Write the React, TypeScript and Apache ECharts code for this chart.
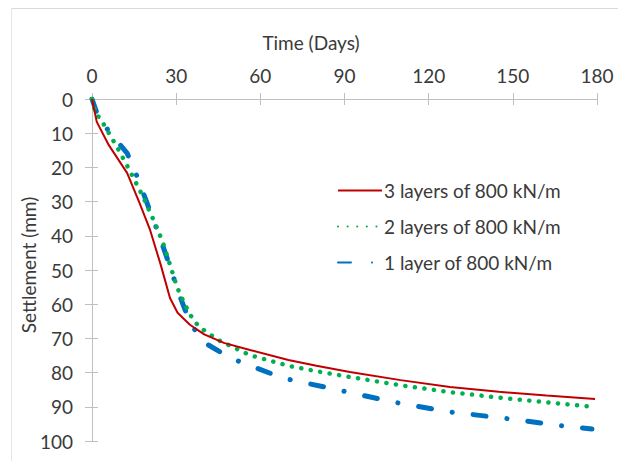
import React, { useEffect, useRef } from "react";
import * as echarts from "echarts";

const xTicks = [0, 30, 60, 90, 120, 150, 180];
const yTicks = [0, 10, 20, 30, 40, 50, 60, 70, 80, 90, 100];

const seriesNames = ["3 layers of 800 kN/m", "2 layers of 800 kN/m", "1 layer of 800 kN/m"];

const threeLayers: [number, number][] = [
  [0, 0], [1.7, 6.7], [6, 13.5], [12.5, 21.6], [17, 30.5], [20.7, 38.3], [24.5, 48.5], [27.8, 58.2],
  [30.5, 62.5], [34.9, 66], [40, 68.8], [47, 71.3], [56.3, 73.4], [70, 76.3], [80, 78], [91.9, 79.8],
  [110, 82.2], [127.6, 84.2], [145, 85.6], [162, 86.7], [179.3, 87.7],
];

const twoLayers: [number, number][] = [
  [0, 0], [1.4, 4.5], [2.9, 5.6], [8.9, 14], [13.5, 21], [18.2, 28.6], [22, 35.5], [25.3, 42],
  [28, 49], [30.3, 55], [32.5, 59], [34.9, 63], [38, 66.5], [45, 70.5], [56.3, 74.9], [70, 78],
  [80, 79.6], [92, 81.3], [110, 83.7], [127.6, 85.7], [145, 87.3], [162, 88.7], [178.5, 90],
];

const oneLayer: [number, number][] = [
  [0, 0], [1.7, 4], [6, 9.5], [12.5, 15.8], [16, 22.5], [19.6, 30.4], [24, 40], [27.8, 49],
  [31, 57], [35, 65.5], [39.6, 71], [49.2, 75.7], [68, 81.6], [87.3, 85], [107.3, 88.6],
  [127.6, 91.5], [146.5, 93.3], [167.9, 95.6], [178.2, 96.5],
];

const FONT = "Lato";
const TEXT = "#3a3a3a";
const AXIS = "#bfbfbf";
const FS = 19;

export default function App() {
  const ref = useRef<HTMLDivElement>(null);
  useEffect(() => {
    if (!ref.current) return;
    const chart = echarts.init(ref.current, undefined, { renderer: "svg" });
    const gridPos = { left: 92, top: 99, right: 21, bottom: 20 };
    const xBase = { type: "value", min: 0, max: 180, interval: 30, position: "top" };
    const yBase = { type: "value", min: 0, max: 100, interval: 10, inverse: true, position: "left" };
    chart.setOption({
      animation: false,
      backgroundColor: "#ffffff",
      textStyle: { fontFamily: FONT },
      grid: gridPos,
      graphic: [
        { type: "line", shape: { x1: 11, y1: 8.5, x2: 618, y2: 8.5 }, style: { stroke: "#d9d9d9", lineWidth: 1 } },
        { type: "line", shape: { x1: 11.5, y1: 8, x2: 11.5, y2: 461 }, style: { stroke: "#e6e6e6", lineWidth: 1 } },
        {
          type: "text", x: 311, y: 42,
          style: { text: "Time (Days)", font: `${FS}px ${FONT}`, fill: TEXT, textAlign: "center", textVerticalAlign: "middle" },
        },
        {
          type: "text", x: 28, y: 265, rotation: Math.PI / 2,
          style: { text: "Settlement (mm)", font: `${FS}px ${FONT}`, fill: TEXT, textAlign: "center", textVerticalAlign: "middle" },
        },
      ],
      legend: {
        show: true,
        data: seriesNames,
        orient: "vertical",
        left: 332,
        top: 175,
        itemWidth: 44,
        itemHeight: 14,
        itemGap: 15,
        itemStyle: { opacity: 0 },
        textStyle: { fontFamily: FONT, fontSize: FS, lineHeight: 21, color: TEXT, padding: [0, 0, 0, -3] },
      },
      xAxis: [
        {
          ...xBase,
          axisLine: { show: true, lineStyle: { color: AXIS, width: 1 } },
          axisTick: { show: true, length: 6, lineStyle: { color: AXIS } },
          axisLabel: { fontFamily: FONT, fontSize: FS, color: TEXT, margin: 14 },
          splitLine: { show: false },
        },
        {
          ...xBase,
          axisLine: { show: false },
          axisTick: { show: true, inside: true, length: 6, lineStyle: { color: AXIS } },
          axisLabel: { show: false },
          splitLine: { show: false },
        },
      ],
      yAxis: [
        {
          ...yBase,
          axisLine: { show: true, lineStyle: { color: AXIS, width: 1 } },
          axisTick: { show: true, length: 7, lineStyle: { color: AXIS } },
          axisLabel: { fontFamily: FONT, fontSize: FS, color: TEXT, margin: 19 },
          splitLine: { show: false },
        },
        {
          ...yBase,
          axisLine: { show: false },
          axisTick: { show: true, inside: true, length: 6, lineStyle: { color: AXIS } },
          axisLabel: { show: false },
          splitLine: { show: false },
        },
      ],
      series: [
        {
          name: seriesNames[0], type: "line", data: threeLayers, showSymbol: false, symbol: "none", smooth: false,
          lineStyle: { color: "#c00000", width: 2 }, itemStyle: { color: "#c00000" }, z: 3,
        },
        {
          name: seriesNames[1], type: "line", data: twoLayers, showSymbol: false, symbol: "none", smooth: false,
          lineStyle: { color: "#00b050", width: 4.5, type: [0.1, 9.5], cap: "round" }, itemStyle: { color: "#00b050" }, z: 2,
        },
        {
          name: seriesNames[2], type: "line", data: oneLayer, showSymbol: false, symbol: "none", smooth: false,
          lineStyle: { color: "#0070c0", width: 5, type: [13, 21, 0.1, 21], cap: "round" }, itemStyle: { color: "#0070c0" }, z: 1,
        },
      ],
    });
    return () => chart.dispose();
  }, []);
  return <div ref={ref} style={{ width: 618, height: 461, position: "absolute", left: 0, top: 0 }} />;
}
